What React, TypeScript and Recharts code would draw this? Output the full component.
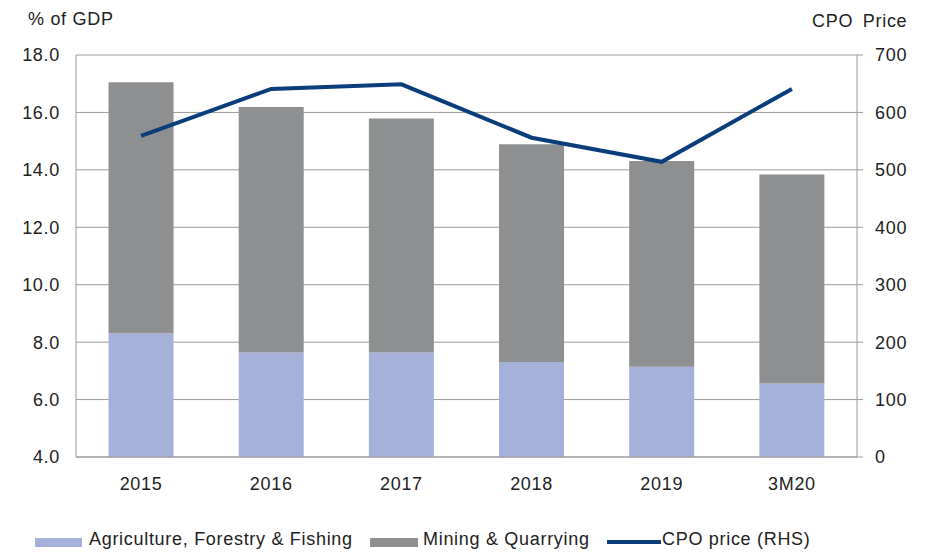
import {
  ComposedChart,
  Bar,
  Line,
  XAxis,
  YAxis,
  CartesianGrid,
} from "recharts";

// ---------------------------------------------------------------------------
// Data
// ---------------------------------------------------------------------------

const periods = ["2015", "2016", "2017", "2018", "2019", "3M20"];
const agriculture = [8.3, 7.64, 7.64, 7.31, 7.14, 6.56];
const mining = [8.75, 8.55, 8.15, 7.58, 7.17, 7.28];
const cpoPrice = [559, 641, 649, 556, 514, 641];

const leftTicks = [4, 6, 8, 10, 12, 14, 16, 18];
const rightTicks = [0, 100, 200, 300, 400, 500, 600, 700];

const data = periods.map((period, i) => ({
  period,
  agriculture: agriculture[i],
  mining: mining[i],
  cpo: cpoPrice[i],
}));

// ---------------------------------------------------------------------------
// Style tokens
// ---------------------------------------------------------------------------

const FONT = "'Liberation Sans', Arial, sans-serif";
const TEXT_COLOR = "#222";
const AGRI_COLOR = "#a5b1d9";
const MINING_COLOR = "#8e8f91";
const LINE_COLOR = "#0b3d7a";
const AXIS_COLOR = "#9a9a9a";
const TICK_STYLE = { fontSize: 18, fill: TEXT_COLOR, fontFamily: FONT, letterSpacing: 0.7 };

const textStyle: React.CSSProperties = {
  position: "absolute",
  fontFamily: FONT,
  fontSize: 18,
  letterSpacing: 0.7,
  color: TEXT_COLOR,
  lineHeight: "20px",
  whiteSpace: "nowrap",
};

export default function App() {
  return (
    <div
      style={{
        position: "absolute",
        left: 0,
        top: 0,
        width: 928,
        height: 552,
        background: "#fff",
        overflow: "hidden",
      }}
    >
      <div style={{ ...textStyle, left: 28, top: 9 }}>% of GDP</div>
      <div style={{ ...textStyle, left: 812, top: 11, wordSpacing: 4 }}>CPO Price</div>

      <ComposedChart
        width={928}
        height={552}
        data={data}
        margin={{ top: 55, right: 11, left: 16, bottom: 65 }}
        barCategoryGap="25%"
      >
        <CartesianGrid
          yAxisId="left"
          vertical={false}
          stroke={AXIS_COLOR}
          strokeWidth={1}
        />
        <XAxis
          dataKey="period"
          height={30}
          tick={TICK_STYLE}
          tickLine={false}
          tickSize={0}
          tickMargin={20}
          axisLine={{ stroke: AXIS_COLOR }}
        />
        <YAxis
          yAxisId="left"
          orientation="left"
          width={60}
          domain={[4, 18]}
          ticks={leftTicks}
          allowDataOverflow
          tickFormatter={(v: number) => v.toFixed(1)}
          tick={TICK_STYLE}
          tickLine={false}
          tickSize={0}
          tickMargin={16}
          axisLine={{ stroke: AXIS_COLOR }}
        />
        <YAxis
          yAxisId="right"
          orientation="right"
          width={60}
          domain={[0, 700]}
          ticks={rightTicks}
          tick={{ ...TICK_STYLE, textAnchor: "start" }}
          tickLine={{ stroke: AXIS_COLOR }}
          tickSize={6}
          tickMargin={12}
          axisLine={{ stroke: AXIS_COLOR }}
        />
        <Bar
          yAxisId="left"
          dataKey="agriculture"
          stackId="gdp"
          fill={AGRI_COLOR}
          isAnimationActive={false}
        />
        <Bar
          yAxisId="left"
          dataKey="mining"
          stackId="gdp"
          fill={MINING_COLOR}
          isAnimationActive={false}
        />
        <Line
          yAxisId="right"
          dataKey="cpo"
          type="linear"
          stroke={LINE_COLOR}
          strokeWidth={4}
          dot={false}
          isAnimationActive={false}
        />
      </ComposedChart>

      {/* Legend */}
      <div style={{ position: "absolute", left: 35, top: 538, width: 47, height: 9, background: AGRI_COLOR }} />
      <div style={{ ...textStyle, left: 89, top: 529 }}>Agriculture, Forestry &amp; Fishing</div>
      <div style={{ position: "absolute", left: 370, top: 538, width: 48, height: 9, background: MINING_COLOR }} />
      <div style={{ ...textStyle, left: 423, top: 529 }}>Mining &amp; Quarrying</div>
      <div style={{ position: "absolute", left: 607, top: 540, width: 54, height: 4, background: LINE_COLOR }} />
      <div style={{ ...textStyle, left: 662, top: 529 }}>CPO price (RHS)</div>
    </div>
  );
}
